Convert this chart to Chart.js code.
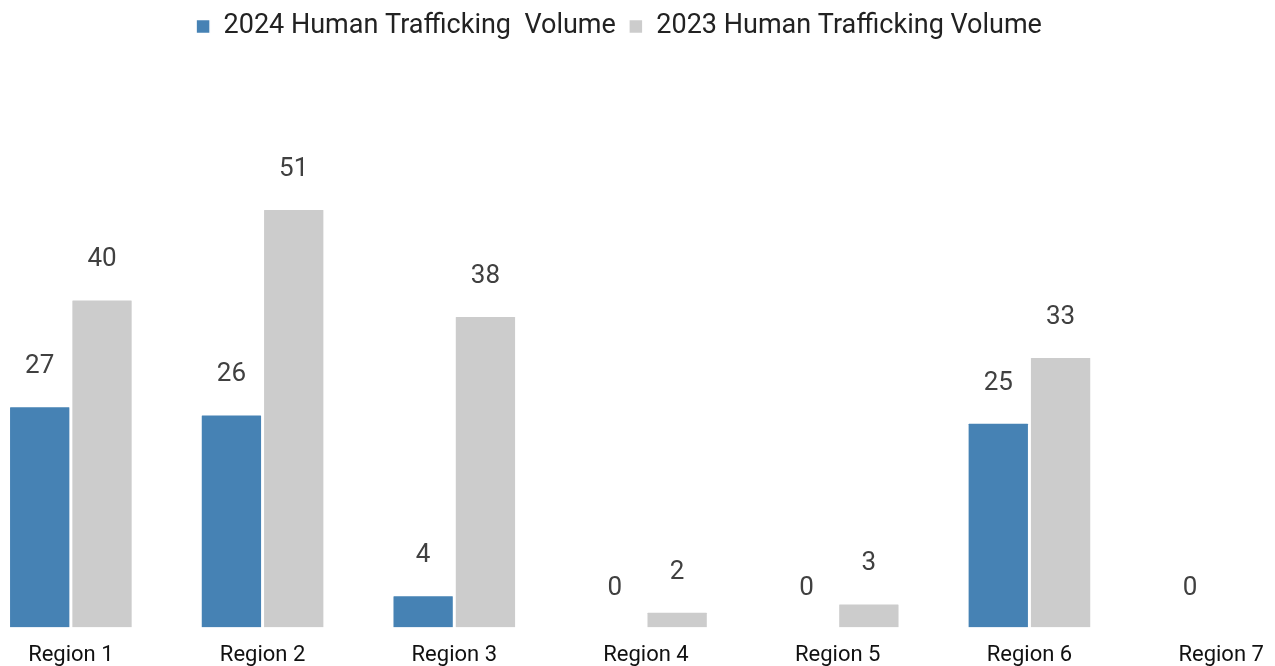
<!DOCTYPE html>
<html>
<head>
<meta charset="utf-8">
<script src="https://cdn.jsdelivr.net/npm/chart.js@4.4.1/dist/chart.umd.min.js"></script>
<style>
html,body{margin:0;padding:0;background:#fff;overflow:hidden;}
#wrap{position:absolute;left:-25px;top:0;width:1342px;height:685px;}
</style>
</head>
<body>
<div id="wrap"><canvas id="c"></canvas></div>
<script>
const categories = ["Region 1","Region 2","Region 3","Region 4","Region 5","Region 6","Region 7"];
const series2024 = [27, 26, 4, 0, 0, 25, 0];
const series2023 = [40, 51, 38, 2, 3, 33, null];
const seriesNames = ["2024 Human Trafficking  Volume", "2023 Human Trafficking Volume"];

const valueLabels = {
  id: 'valueLabels',
  afterDatasetsDraw(chart) {
    const ctx = chart.ctx;
    ctx.save();
    ctx.font = '26px Roboto';
    ctx.fillStyle = '#404040';
    ctx.textAlign = 'center';
    ctx.textBaseline = 'middle';
    chart.data.datasets.forEach((ds, i) => {
      const meta = chart.getDatasetMeta(i);
      meta.data.forEach((el, j) => {
        const v = ds.data[j];
        if (v === null || v === undefined) return;
        ctx.fillText(String(v), el.x, el.y - 39);
      });
    });
    ctx.restore();
  }
};

const legendShift = {
  id: 'legendShift',
  afterLayout(chart) {
    if (chart.legend) {
      chart.legend.left -= 27;
      chart.legend.right -= 27;
    }
  }
};

new Chart(document.getElementById('c'), {
  type: 'bar',
  data: {
    labels: categories,
    datasets: [
      { label: seriesNames[0], data: series2024, backgroundColor: '#4682B4', borderColor: '#ffffff', borderWidth: 1.5, borderRadius: 2, borderSkipped: 'bottom' },
      { label: seriesNames[1], data: series2023, backgroundColor: '#CCCCCC', borderColor: '#ffffff', borderWidth: 1.5, borderRadius: 2, borderSkipped: 'bottom' }
    ]
  },
  options: {
    responsive: true,
    maintainAspectRatio: false,
    animation: false,
    layout: { padding: { top: 0, bottom: 1, left: 0, right: 0 } },
    datasets: { bar: { categoryPercentage: 0.65, barPercentage: 1.0 } },
    plugins: {
      legend: {
        position: 'top',
        labels: {
          font: { family: 'Roboto', size: 27 },
          color: '#222222',
          boxWidth: 14,
          boxHeight: 14,
          padding: 13
        }
      },
      tooltip: { enabled: false }
    },
    scales: {
      x: {
        grid: { display: false, drawTicks: false },
        border: { display: false },
        ticks: { font: { family: 'Roboto', size: 22 }, color: '#111111', padding: 15 }
      },
      y: {
        display: false,
        min: 0,
        max: 70.3
      }
    }
  },
  plugins: [valueLabels, legendShift]
});
</script>
</body>
</html>
